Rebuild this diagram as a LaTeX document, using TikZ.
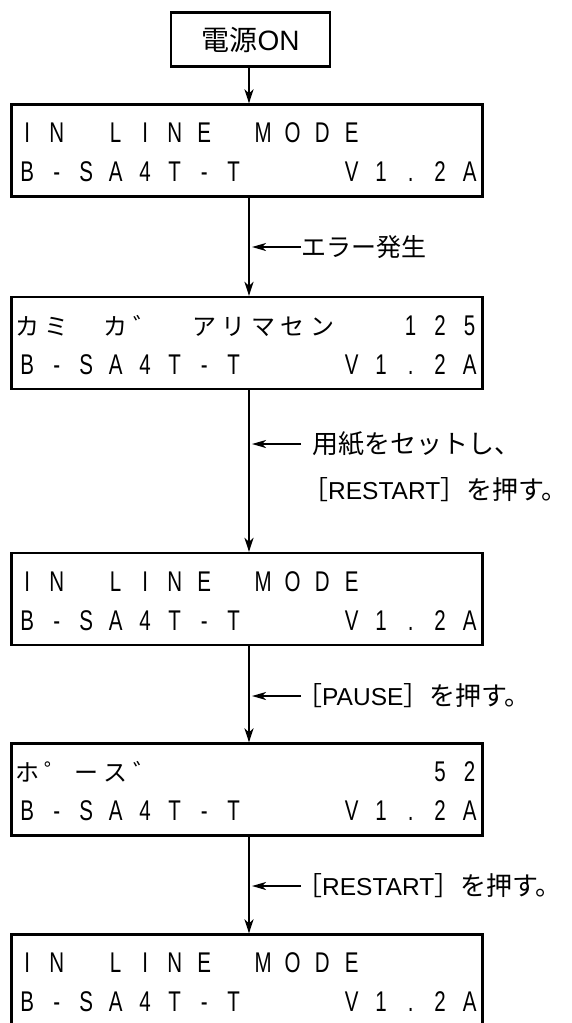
\documentclass[tikz,border=0pt]{standalone}
\usepackage{fontspec}
\newfontfamily\jp{Noto Sans CJK JP}
\newfontfamily\lat{Liberation Sans}
\newfontfamily\lcdfont[FakeStretch=0.72]{Liberation Sans}
\usetikzlibrary{arrows.meta}
\newcommand\lcdrow[1]{\foreach \lcdch in {#1}{\makebox[29.5pt][c]{\lcdch}}}
\newcommand\kt[1]{{\jp\fontsize{24}{26}\selectfont #1}}
\newcommand\lt[1]{{\lat\fontsize{24.5}{28}\selectfont #1}}
\begin{document}
\begin{tikzpicture}[x=1pt,y=-1pt,
  lcdbox/.style={draw, line width=2.3pt, minimum width=471pt, minimum height=92pt, inner sep=0pt},
  topbox/.style={draw, line width=2.3pt, minimum width=159pt, minimum height=54pt, inner sep=0pt, font=\jp\fontsize{28}{30}\selectfont},
  lcdtext/.style={anchor=base west, inner sep=0pt, font=\lcdfont\fontsize{28.5}{30}\selectfont},
  note/.style={anchor=west, inner sep=0pt, font=\jp\fontsize{26}{28}\selectfont},
  flow/.style={line width=2pt, -{Stealth[length=14pt,width=9pt,inset=4pt]}},
  notearrow/.style={line width=1.8pt, -{Stealth[length=14pt,width=8pt,inset=4pt]}, shorten >=3pt}]
\useasboundingbox (0,0) rectangle (571,1023);
\clip (0,0) rectangle (571,1023);
\coordinate (ax) at (249,0);
% boxes
\node[topbox] (b0) at (250.5,39.5) {電源{\lat ON}};
\node[lcdbox] (b1) at (247,150.5) {};
\node[lcdbox] (b2) at (247,343) {};
\node[lcdbox] (b3) at (247,599) {};
\node[lcdbox] (b4) at (247,789.5) {};
\node[lcdbox] (b5) at (247,980.5) {};
% LCD rows
\node[lcdtext] (t1a) at (12.25,142) {\lcdrow{I,N, ,L,I,N,E, ,M,O,D,E}};
\node[lcdtext] (t1b) at (12.25,181) {\lcdrow{B,-,S,A,4,T,-,T, , , ,V,1,.,2,A}};
\node[lcdtext] (t2a) at (12.25,335) {\lcdrow{\kt{カ},\kt{ミ}, ,\kt{カ},\kt{゛}, ,\kt{ア},\kt{リ},\kt{マ},\kt{セ},\kt{ン}, , ,1,2,5}};
\node[lcdtext] (t2b) at (12.25,374) {\lcdrow{B,-,S,A,4,T,-,T, , , ,V,1,.,2,A}};
\node[lcdtext] (t3a) at (12.25,591) {\lcdrow{I,N, ,L,I,N,E, ,M,O,D,E}};
\node[lcdtext] (t3b) at (12.25,630) {\lcdrow{B,-,S,A,4,T,-,T, , , ,V,1,.,2,A}};
\node[lcdtext] (t4a) at (12.25,781) {\lcdrow{\kt{ホ},\kt{゜},\kt{ー},\kt{ス},\kt{゛}, , , , , , , , , ,5,2}};
\node[lcdtext] (t4b) at (12.25,820) {\lcdrow{B,-,S,A,4,T,-,T, , , ,V,1,.,2,A}};
\node[lcdtext] (t5a) at (12.25,972) {\lcdrow{I,N, ,L,I,N,E, ,M,O,D,E}};
\node[lcdtext] (t5b) at (12.25,1011) {\lcdrow{B,-,S,A,4,T,-,T, , , ,V,1,.,2,A}};
% flow arrows
\draw[flow] (b0.south -| ax) -- (b1.north -| ax);
\draw[flow] (b1.south -| ax) -- (b2.north -| ax);
\draw[flow] (b2.south -| ax) -- (b3.north -| ax);
\draw[flow] (b3.south -| ax) -- (b4.north -| ax);
\draw[flow] (b4.south -| ax) -- (b5.north -| ax);
% notes
\node[note, font=\jp\fontsize{25}{28}\selectfont] (l1) at (301,247) {エラー発生};
\node[note] (l2a) at (312,444) {用紙をセットし、};
\node[note] (l2b) at (302,490) {［\lt{RESTART}］を押す。};
\node[note] (l3) at (296,696) {［\lt{PAUSE}］を押す。};
\node[note] (l4) at (296,886) {［\lt{RESTART}］を押す。};
\coordinate (n1) at (301,247);
\coordinate (n2) at (301,444);
\coordinate (n3) at (301,696);
\coordinate (n4) at (301,886);
\draw[notearrow] (n1) -- (n1 -| ax);
\draw[notearrow] (n2) -- (n2 -| ax);
\draw[notearrow] (n3) -- (n3 -| ax);
\draw[notearrow] (n4) -- (n4 -| ax);
\end{tikzpicture}
\end{document}
